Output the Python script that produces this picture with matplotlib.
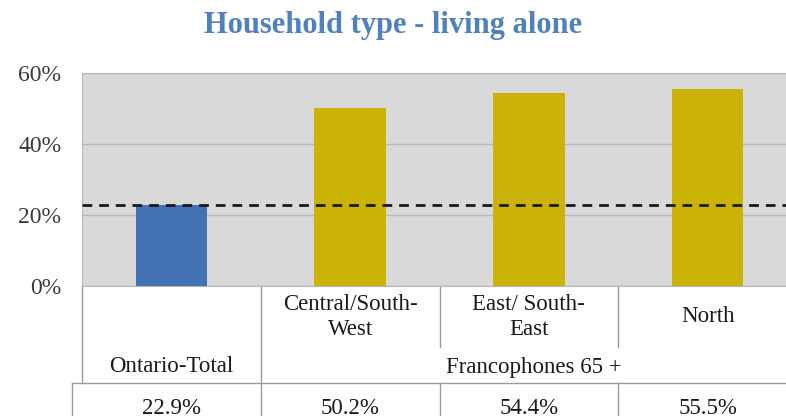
import matplotlib
matplotlib.use("Agg")
import matplotlib.pyplot as plt
from matplotlib.transforms import blended_transform_factory

categories = ["Ontario-Total", "Central/South-\nWest", "East/ South-\nEast", "North"]
group_labels = ["Ontario-Total", "Francophones 65 +"]
values = [22.9, 50.2, 54.4, 55.5]
reference = 22.9
yticks = [0, 20, 40, 60]
colors = ["#4372B4", "#CBB30A", "#CBB30A", "#CBB30A"]

W, H = 786, 416
fig = plt.figure(figsize=(W / 100, H / 100), dpi=100)
font = "Liberation Serif"
plt.rcParams["font.family"] = [font, "DejaVu Serif"]

def fx(px):
    return px / W

def fy(py):
    return 1 - py / H

ax_left, ax_right, ax_top, ax_bot = 82, 797, 73, 286
ax = fig.add_axes([fx(ax_left), fy(ax_bot), fx(ax_right - ax_left), (ax_bot - ax_top) / H])
ax.set_facecolor("#D9D9D9")
x = list(range(len(values)))
ax.bar(x, values, width=0.4, color=colors, zorder=3)
ax.axhline(reference, color="#1a1a1a", lw=2, ls=(0, (3.5, 2.5)), zorder=4)
ax.set_xlim(-0.5, len(values) - 0.5)
ax.set_ylim(0, 60)
ax.set_yticks(yticks)
ax.set_yticklabels([f"{t}%" for t in yticks], fontsize=17, color="#3a3a3a")
ax.tick_params(axis="y", length=0, pad=15)
ax.tick_params(axis="x", length=0, labelbottom=False)
ax.yaxis.grid(True, color="#B8B8B8", lw=1, zorder=1)
for s in ["left", "top"]:
    ax.spines[s].set_color("#B8B8B8")
ax.spines["right"].set_visible(False)
ax.spines["bottom"].set_color("#B8B8B8")

fig.text(0.5, fy(25), "Household type - living alone", ha="center", va="center",
         fontsize=22, fontweight="bold", color="#4F81BD")

tr = blended_transform_factory(ax.transData, fig.transFigure)
line_kw = dict(color="#9A9A9A", lw=1, clip_on=False)
# table lines
ax.plot([-0.5, -0.5], [fy(286), fy(383)], transform=tr, **line_kw)
ax.plot([0.5, 0.5], [fy(286), fy(416)], transform=tr, **line_kw)
for b in [1.5, 2.5]:
    ax.plot([b, b], [fy(286), fy(347)], transform=tr, **line_kw)
    ax.plot([b, b], [fy(383), fy(416)], transform=tr, **line_kw)
fig.add_artist(plt.Line2D([fx(72), 1], [fy(383), fy(383)], color="#9A9A9A", lw=1))
fig.add_artist(plt.Line2D([fx(72), fx(72)], [fy(383), 0], color="#9A9A9A", lw=1))

txt_kw = dict(fontsize=16.5, color="#1a1a1a", ha="center", va="center", transform=tr)
for i, c in enumerate(categories[1:], start=1):
    ax.text(i, fy(317), c, linespacing=1.3, **txt_kw)
ax.text(0, fy(367), group_labels[0], **txt_kw)
ax.text((0.5 + len(values) - 0.5) / 2 + 0.03, fy(367), group_labels[1], **txt_kw)
for i, v in enumerate(values):
    ax.text(i, fy(409), f"{v:.1f}%", **txt_kw)

fig.savefig("out.png", dpi=100)
